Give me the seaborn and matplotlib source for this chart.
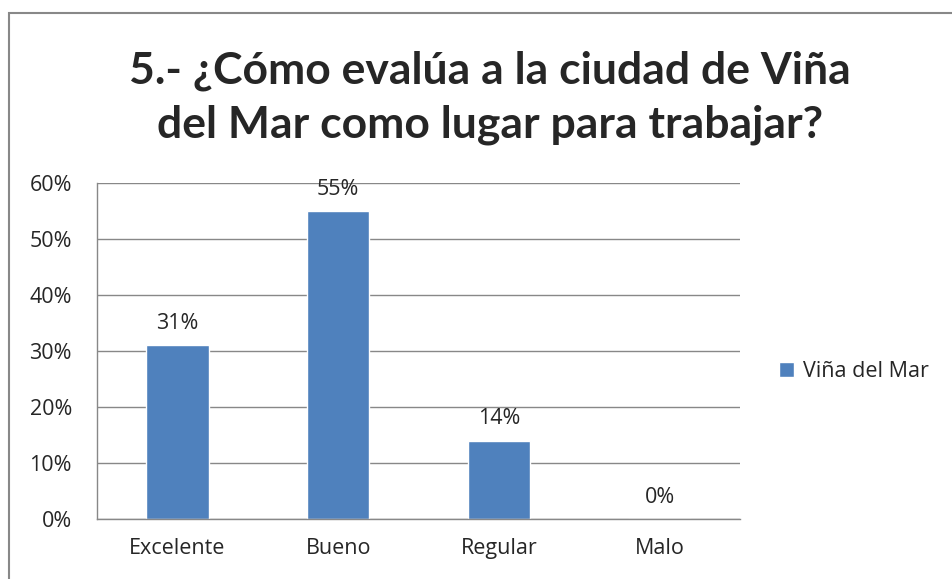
import matplotlib
matplotlib.use("Agg")
import matplotlib.pyplot as plt
import seaborn as sns
import pandas as pd
from matplotlib.patches import Rectangle
from matplotlib.ticker import FixedLocator

categorias = ["Excelente", "Bueno", "Regular", "Malo"]
valores = [31, 55, 14, 0]
serie = "Viña del Mar"
titulo = "5.- ¿Cómo evalúa a la ciudad de Viña\ndel Mar como lugar para trabajar?"
yticks = [0, 10, 20, 30, 40, 50, 60]

df = pd.DataFrame({"cat": categorias, "val": valores})

sns.set_style("white")
plt.rcParams['font.family'] = ['Open Sans', 'DejaVu Sans']
fs = 15.5

fig = plt.figure(figsize=(9.53, 5.79), dpi=100)
ax = fig.add_axes([97/953, 1 - 519/579, (740-97)/953, (519-183)/579])

sns.barplot(data=df, x="cat", y="val", color="#4F81BD", saturation=1,
            width=0.39, label=serie, ax=ax)

ax.set_xlim(-0.5, 3.5)
ax.set_ylim(0, 60)
ax.set_yticks(yticks)
ax.set_yticklabels([f"{v}%" for v in yticks], fontsize=fs)
ax.yaxis.grid(True, color="#888888", linewidth=1)
ax.set_axisbelow(True)
ax.set_xlabel("")
ax.set_ylabel("")
for s in ["top", "right"]:
    ax.spines[s].set_visible(False)
for s in ["left", "bottom"]:
    ax.spines[s].set_color("#888888")
    ax.spines[s].set_linewidth(1)

# x ticks between categories, labels centred
ax.xaxis.set_minor_locator(FixedLocator([-0.5, 0.5, 1.5, 2.5, 3.5]))
ax.tick_params(axis="x", which="major", length=0, pad=14, labelsize=fs)
ax.tick_params(axis="x", which="minor", length=6, color="#888888", width=1, direction="out")
ax.tick_params(axis="y", length=6, color="#888888", width=1, direction="out", pad=12)

for i, v in enumerate(valores):
    ax.annotate(f"{v}%", (i, v), xytext=(0, 8), textcoords="offset points",
                ha="center", va="bottom", fontsize=fs)

leg = ax.legend(loc="center left", bbox_to_anchor=(1.031, 0.44), frameon=False,
                fontsize=fs, handlelength=0.7, handleheight=0.7, handletextpad=0.4)

fig.text(490/953, 1 - 97.5/579, titulo, ha="center", va="center",
         fontsize=32, fontweight="bold", linespacing=1.42,
         family=['Lato', 'DejaVu Sans'])

fig.patches.append(Rectangle((9/953, -0.1), 1.2, 1 - 13/579 + 0.1,
                             transform=fig.transFigure, fill=False,
                             edgecolor="#888888", linewidth=1.5))

fig.savefig("out.png", dpi=100)
